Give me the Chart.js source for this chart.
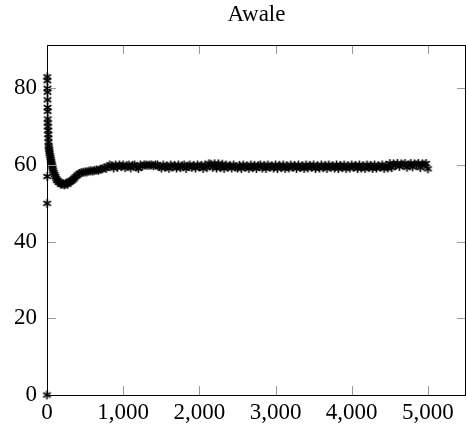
<!DOCTYPE html>
<html>
<head>
<meta charset="utf-8">
<script src="https://cdn.jsdelivr.net/npm/chart.js@4/dist/chart.umd.min.js"></script>
<style>
  body { margin: 0; background: #fff; }
  #wrap { width: 467px; height: 427px; }
</style>
</head>
<body>
<div id="wrap"><canvas id="chart"></canvas></div>
<script>
// iterations (x) and score (y)
var earlyIter = [0, 1, 2, 3, 4, 5, 6, 7, 8, 9, 10, 11, 12, 14, 16, 18, 20, 22, 25, 28, 31, 35, 40, 45, 50, 55, 60, 65, 70, 75, 80, 90,
  100, 110, 120, 130, 140, 150, 165, 180, 195, 210, 225, 240, 255, 270, 285, 300, 315, 330, 345, 360, 380, 400, 425, 450, 475,
  500, 525, 550, 575, 600, 625, 650, 675, 700, 725, 750, 775, 800, 825];
var earlyScore = [0, 50, 57, 83, 82, 80, 79, 77, 75, 74, 72, 71, 70, 69, 68, 67, 66, 65, 64.5, 64, 63.5, 63, 62.5, 62, 61.5, 61, 60.5, 60, 59.5, 59, 58.5, 58,
  57.5, 57, 56.5, 56, 56, 55.5, 55.5, 55, 55, 55.2, 54.8, 55, 55.3, 55, 55.5, 55.6, 55.8, 56, 56.3, 56.6, 57, 57.4, 57.8, 58, 58.1,
  58.2, 58.2, 58.4, 58.5, 58.4, 58.6, 58.7, 58.6, 58.9, 59, 59.3, 59.1, 59.6, 60];

var lateIter = [850, 875, 900, 925, 950, 975,
  1000, 1025, 1050, 1075, 1100, 1125, 1150, 1175, 1200, 1225, 1250, 1275, 1300, 1325, 1350, 1375, 1400, 1425, 1450, 1475,
  1500, 1525, 1550, 1575, 1600, 1625, 1650, 1675, 1700, 1725, 1750, 1775, 1800, 1825, 1850, 1875, 1900, 1925, 1950, 1975,
  2000, 2025, 2050, 2075, 2100, 2125, 2150, 2175, 2200, 2225, 2250, 2275, 2300, 2325, 2350, 2375, 2400, 2425, 2450, 2475,
  2500, 2525, 2550, 2575, 2600, 2625, 2650, 2675, 2700, 2725, 2750, 2775, 2800, 2825, 2850, 2875, 2900, 2925, 2950, 2975,
  3000, 3025, 3050, 3075, 3100, 3125, 3150, 3175, 3200, 3225, 3250, 3275, 3300, 3325, 3350, 3375, 3400, 3425, 3450, 3475,
  3500, 3525, 3550, 3575, 3600, 3625, 3650, 3675, 3700, 3725, 3750, 3775, 3800, 3825, 3850, 3875, 3900, 3925, 3950, 3975,
  4000, 4025, 4050, 4075, 4100, 4125, 4150, 4175, 4200, 4225, 4250, 4275, 4300, 4325, 4350, 4375, 4400, 4425, 4450, 4475,
  4500, 4525, 4550, 4575, 4600, 4625, 4650, 4675, 4700, 4725, 4750, 4775, 4800, 4825, 4850, 4875, 4900, 4925, 4950, 4975,
  5000];
var lateScore = [59.8, 59.2, 60, 59.4, 60, 59.6,
  60, 59.3, 59.8, 60, 59.2, 59.9, 60, 59.5, 59.1, 60, 59.7, 60, 60, 59.9, 60, 60, 59.8, 60, 60, 59.6,
  59.2, 60, 59.4, 59.8, 59.1, 60, 59.5, 59.9, 59.2, 60, 59.3, 59.8, 60, 59.1, 59.7, 60, 59.4, 59.9, 59.2, 60,
  59.5, 59.9, 59.1, 60, 59.3, 60.3, 60.2, 59.4, 60.3, 59.2, 60.3, 59.3, 60.2, 59.1, 60, 59.4, 59.9, 59.2, 60, 59.5,
  59.2, 59.9, 59.1, 60, 59.4, 59.8, 59.1, 60, 59.3, 59.9, 59.1, 59.8, 60, 59.2, 59.9, 59.1, 60, 59.4, 59.8, 59.2,
  60, 59.1, 59.9, 59.3, 60, 59.1, 59.8, 59.2, 60, 59.4, 59.9, 59.1, 60, 59.3, 59.8, 59.1, 60, 59.2, 59.9, 59.4,
  60, 59.1, 59.8, 59.2, 60, 59.3, 59.9, 59.1, 60, 59.4, 59.8, 59.2, 60, 59.1, 59.9, 59.3, 60, 59.1, 59.8, 59.2,
  60, 59.4, 59.9, 59.1, 60, 59.2, 59.8, 59.1, 60, 59.3, 59.9, 59.1, 60, 59.2, 59.8, 59.4, 60, 59.1, 59.9, 59.2,
  60.4, 59.3, 60.3, 59.9, 60.4, 59.6, 60.3, 60, 60.4, 59.4, 60, 60.4, 59.5, 60.3, 60, 60.4, 59.3, 60.3, 60, 60.4,
  59];

var xTicks = [0, 1000, 2000, 3000, 4000, 5000];
var yTicks = [0, 20, 40, 60, 80];

var points = [];
earlyIter.forEach(function (x, i) { points.push({ x: x, y: earlyScore[i] }); });
lateIter.forEach(function (x, i) { points.push({ x: x, y: lateScore[i] }); });

// asterisk mark like pgfplots
function makeMark() {
  var c = document.createElement('canvas');
  c.width = 11; c.height = 11;
  var g = c.getContext('2d');
  g.strokeStyle = '#000';
  g.lineWidth = 1.6;
  var r = 4.4;
  [90, 30, 150].forEach(function (a) {
    var t = a * Math.PI / 180;
    g.beginPath();
    g.moveTo(5.5 - r * Math.cos(t), 5.5 - r * Math.sin(t));
    g.lineTo(5.5 + r * Math.cos(t), 5.5 + r * Math.sin(t));
    g.stroke();
  });
  return c;
}

var serif = "'Liberation Serif', 'DejaVu Serif', serif";

var boxPlugin = {
  id: 'box',
  afterDatasetsDraw: function (chart) {
    var ctx = chart.ctx, a = chart.chartArea;
    var xs = chart.scales.x, ys = chart.scales.y;
    var len = 9;
    ctx.save();
    ctx.strokeStyle = '#999';
    ctx.lineWidth = 1;
    ctx.beginPath();
    xTicks.forEach(function (v) {
      var px = Math.round(xs.getPixelForValue(v)) + 0.5;
      ctx.moveTo(px, a.bottom); ctx.lineTo(px, a.bottom - len);
      ctx.moveTo(px, a.top); ctx.lineTo(px, a.top + len);
    });
    yTicks.forEach(function (v) {
      var py = Math.round(ys.getPixelForValue(v)) + 0.5;
      ctx.moveTo(a.left, py); ctx.lineTo(a.left + len, py);
      ctx.moveTo(a.right, py); ctx.lineTo(a.right - len, py);
    });
    ctx.stroke();
    ctx.strokeStyle = '#000';
    ctx.strokeRect(a.left + 0.5, a.top + 0.5, a.right - a.left - 1, a.bottom - a.top);
    ctx.restore();
  }
};

new Chart(document.getElementById('chart'), {
  type: 'scatter',
  data: {
    datasets: [{
      data: points,
      pointStyle: makeMark(),
      pointRadius: 5,
      borderColor: '#000',
      backgroundColor: '#000',
      showLine: false,
      clip: false
    }]
  },
  options: {
    responsive: true,
    maintainAspectRatio: false,
    animation: false,
    layout: { autoPadding: false, padding: { left: 0, right: 1, top: 0, bottom: 0 } },
    plugins: {
      legend: { display: false },
      tooltip: { enabled: false },
      title: {
        display: true,
        fullSize: false,
        text: 'Awale',
        color: '#000',
        font: { family: serif, size: 23, weight: 'normal' },
        padding: { top: 1, bottom: 16.4 }
      }
    },
    scales: {
      x: {
        type: 'linear',
        min: 0,
        max: 5500,
        afterFit: function (s) { s.height = 32; s.paddingLeft = 0; s.paddingRight = 0; },
        afterBuildTicks: function (s) { s.ticks = xTicks.map(function (v) { return { value: v }; }); },
        grid: { display: true, drawOnChartArea: false, drawTicks: false },
        border: { display: false },
        ticks: {
          color: '#000',
          padding: 4,
          maxRotation: 0,
          font: { family: serif, size: 23 },
          callback: function (v) { return v.toLocaleString('en-US'); }
        }
      },
      y: {
        type: 'linear',
        min: 0,
        max: 91.3,
        afterFit: function (s) { s.width = 47; s.paddingTop = 0; s.paddingBottom = 0; },
        afterBuildTicks: function (s) { s.ticks = yTicks.map(function (v) { return { value: v }; }); },
        grid: { display: true, drawOnChartArea: false, drawTicks: false },
        border: { display: false },
        ticks: {
          color: '#000',
          padding: 10,
          font: { family: serif, size: 23 }
        }
      }
    }
  },
  plugins: [boxPlugin]
});
</script>
</body>
</html>
